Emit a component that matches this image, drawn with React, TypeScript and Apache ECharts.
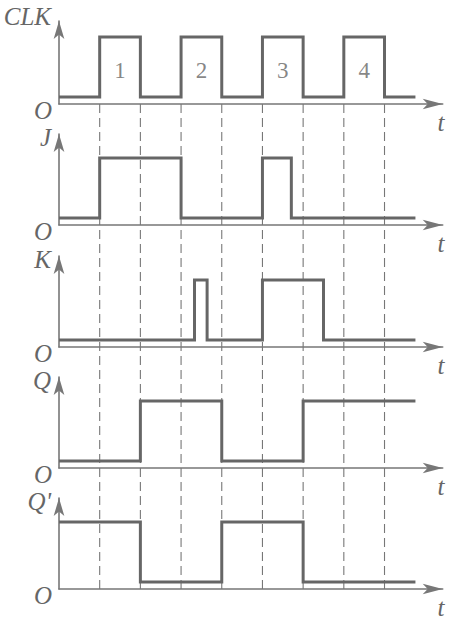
import React, { useEffect, useRef } from "react";
import * as echarts from "echarts";

// Transition times (in half-clock-period units) and logic levels after each transition
const clkTimes = [0, 1, 2, 3, 4, 5, 6, 7, 8, 8.76];
const clkLevels = [0, 1, 0, 1, 0, 1, 0, 1, 0, 0];
const jTimes = [0, 1, 3, 5, 5.71, 8.76];
const jLevels = [0, 1, 0, 1, 0, 0];
const kTimes = [0, 3.33, 3.64, 5, 6.5, 8.76];
const kLevels = [0, 1, 0, 1, 0, 0];
const qTimes = [0, 2, 4, 6, 8.76];
const qLevels = [0, 1, 0, 1, 1];
const qnTimes = [0, 2, 4, 6, 8.76];
const qnLevels = [1, 0, 1, 0, 0];

const signalNames = ["CLK", "J", "K", "Q", "Q'"];
const pulseLabels = ["1", "2", "3", "4"];
const pulseCenters = [1.5, 3.5, 5.5, 7.5];
const edgeTimes = [1, 2, 3, 4, 5, 6, 7, 8];
const originLabel = "O";
const timeLabel = "t";

const signals = [
  [clkTimes, clkLevels],
  [jTimes, jLevels],
  [kTimes, kLevels],
  [qTimes, qLevels],
  [qnTimes, qnLevels],
];

const axisYs = [104, 225, 347, 468, 589];
const PX_PER_UNIT = 60;
const LOW_OFFSET = 7;
const X_MAX = 9.43;
const GRID_LEFT = 59;
const GRID_WIDTH = 383.7;
const INK = "#666";
const SERIF = "'Liberation Serif', 'Times New Roman', serif";

function stepPoints(times: number[], levels: number[]) {
  const pts: number[][] = [];
  for (let i = 0; i < times.length - 1; i++) {
    pts.push([times[i], levels[i]]);
    pts.push([times[i + 1], levels[i]]);
  }
  return pts;
}

export default function App() {
  const ref = useRef<HTMLDivElement>(null);
  useEffect(() => {
    if (!ref.current) return;
    const chart = echarts.init(ref.current, undefined, { renderer: "svg" });

    const grids: any[] = [];
    const xAxes: any[] = [];
    const yAxes: any[] = [];
    const series: any[] = [];
    const graphics: any[] = [];

    axisYs.forEach((A, i) => {
      const top = i === 0 ? 21 : A - 91;
      const height = A - top;
      const min = -LOW_OFFSET / PX_PER_UNIT;
      const max = (A - LOW_OFFSET - top) / PX_PER_UNIT;
      grids.push({ left: GRID_LEFT, top, width: GRID_WIDTH, height });
      xAxes.push({
        gridIndex: i,
        type: "value",
        min: 0,
        max: X_MAX,
        axisLine: {
          onZero: false,
          symbol: ["none", "arrow"],
          symbolSize: [8, 20],
          lineStyle: { color: "#777", width: 1.6 },
        },
        axisTick: { show: false },
        axisLabel: { show: false },
        splitLine: { show: false },
      });
      yAxes.push({
        gridIndex: i,
        type: "value",
        min,
        max,
        axisLine: {
          show: true,
          onZero: false,
          symbol: ["none", "arrow"],
          symbolSize: [8, 18],
          lineStyle: { color: "#777", width: 1.6 },
        },
        axisTick: { show: false },
        axisLabel: { show: false },
        splitLine: { show: false },
      });
      const [t, v] = signals[i];
      series.push({
        type: "line",
        xAxisIndex: i,
        yAxisIndex: i,
        data: stepPoints(t as number[], v as number[]),
        symbol: "none",
        lineStyle: { color: INK, width: 3, join: "miter", cap: "butt" },
        z: 5,
      });
      graphics.push({
        type: "text",
        style: {
          text: signalNames[i],
          x: 51,
          y: A - 88,
          align: "right",
          verticalAlign: "middle",
          font: `italic 25px ${SERIF}`,
          fill: INK,
        },
      });
      graphics.push({
        type: "text",
        style: {
          text: originLabel,
          x: 43,
          y: A + 6,
          align: "center",
          verticalAlign: "middle",
          font: `italic 25px ${SERIF}`,
          fill: INK,
        },
      });
      graphics.push({
        type: "text",
        style: {
          text: timeLabel,
          x: 441,
          y: A + 18,
          align: "center",
          verticalAlign: "middle",
          font: `italic 25px ${SERIF}`,
          fill: INK,
        },
      });
    });

    // dashed guide grid
    const gi = axisYs.length;
    grids.push({ left: GRID_LEFT, top: axisYs[0], width: GRID_WIDTH, height: axisYs[gi - 1] - axisYs[0] });
    xAxes.push({ gridIndex: gi, type: "value", min: 0, max: X_MAX, show: false });
    yAxes.push({ gridIndex: gi, type: "value", min: 0, max: 1, show: false });
    edgeTimes.forEach((t) => {
      series.push({
        type: "line",
        xAxisIndex: gi,
        yAxisIndex: gi,
        data: [
          [t, 0],
          [t, 1],
        ],
        symbol: "none",
        lineStyle: { color: "#777", width: 1.1, type: [9, 5] },
        z: 1,
      });
    });

    // pulse numbers
    series.push({
      type: "scatter",
      xAxisIndex: 0,
      yAxisIndex: 0,
      symbolSize: 0,
      itemStyle: { color: "transparent" },
      data: pulseLabels.map((n, k) => ({ name: n, value: [pulseCenters[k], 0.45] })),
      label: {
        show: true,
        position: "inside",
        formatter: (p: any) => p.name,
        color: INK,
        fontFamily: SERIF,
        fontSize: 23,
      },
      z: 6,
    });

    chart.setOption({
      animation: false,
      backgroundColor: "#fff",
      grid: grids,
      xAxis: xAxes,
      yAxis: yAxes,
      series,
      graphic: graphics,
    });
    return () => chart.dispose();
  }, []);

  return (
    <div
      ref={ref}
      style={{ position: "fixed", left: 0, top: 0, width: 475, height: 623 }}
    />
  );
}
